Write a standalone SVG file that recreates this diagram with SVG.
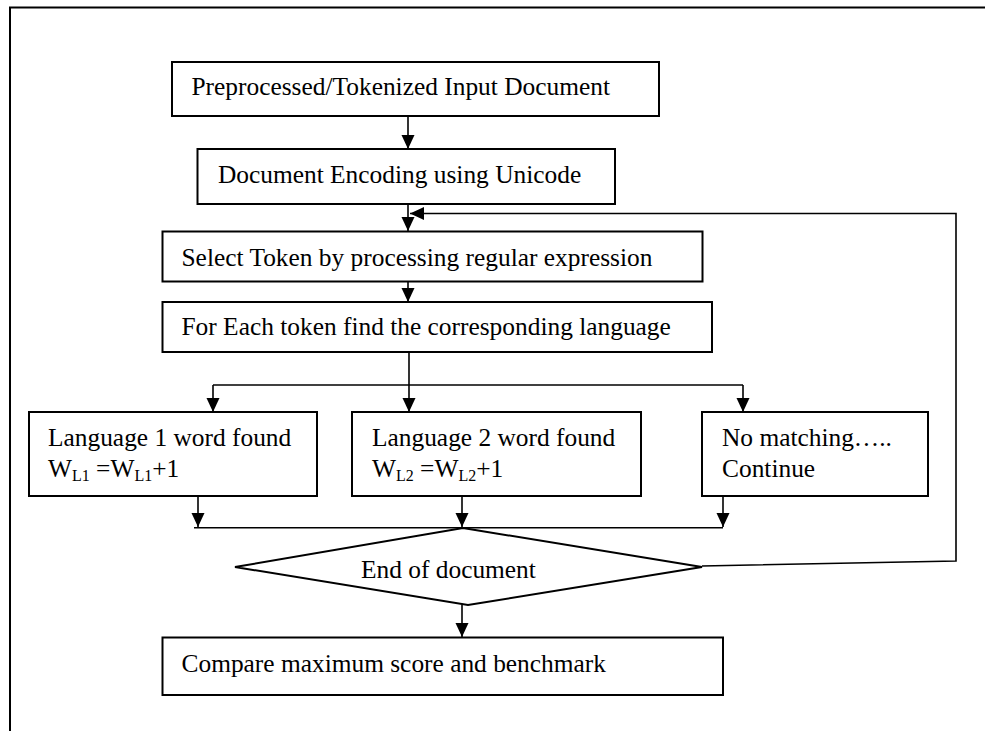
<svg xmlns="http://www.w3.org/2000/svg" width="985" height="731" viewBox="0 0 985 731">
<defs>
<style>
.box{fill:#fff;stroke:#000;stroke-width:2}
.ln{fill:none;stroke:#000;stroke-width:1.6}
.t{font-family:"Liberation Serif","Times New Roman",serif;font-size:25.4px;fill:#000}
.sub{font-size:16px}
</style>
<marker id="ah" markerUnits="userSpaceOnUse" markerWidth="15" markerHeight="14" refX="14" refY="6.5" orient="auto" viewBox="0 0 15 14">
<path d="M0,0 L14,6.5 L0,13 z" fill="#000"/>
</marker>
</defs>
<rect width="985" height="731" fill="#fff"/>
<g id="frame">
<path d="M10,731 V7.5 H985" fill="none" stroke="#000" stroke-width="2"/>
</g>
<g id="connectors">
<path class="ln" d="M408,116 V149" marker-end="url(#ah)"/>
<path class="ln" d="M408,204 V231" marker-end="url(#ah)"/>
<path class="ln" d="M408,281 V302" marker-end="url(#ah)"/>
<path class="ln" d="M409,352 V385"/>
<path class="ln" d="M213,385 H743"/>
<path class="ln" d="M213,385 V412" marker-end="url(#ah)"/>
<path class="ln" d="M409,385 V412" marker-end="url(#ah)"/>
<path class="ln" d="M743,385 V412" marker-end="url(#ah)"/>
<path class="ln" d="M198,496 V527" marker-end="url(#ah)"/>
<path class="ln" d="M462,496 V527" marker-end="url(#ah)"/>
<path class="ln" d="M723,496 V527" marker-end="url(#ah)"/>
<path class="ln" d="M194,527.7 H723"/>
<path class="ln" d="M462,605 V637" marker-end="url(#ah)"/>
<path class="ln" d="M702,566 L956,561 V213.5 H410" marker-end="url(#ah)"/>
</g>
<g id="n1">
<rect class="box" x="172" y="62" width="487" height="54"/>
<text class="t" x="191.5" y="94.5">Preprocessed/Tokenized Input Document</text>
</g>
<g id="n2">
<rect class="box" x="197.5" y="149" width="417.5" height="55"/>
<text class="t" x="218" y="183">Document Encoding using Unicode</text>
</g>
<g id="n3">
<rect class="box" x="162.5" y="231.5" width="540" height="50"/>
<text class="t" x="181.5" y="265.5">Select Token by processing regular expression</text>
</g>
<g id="n4">
<rect class="box" x="162.5" y="302" width="549.5" height="50"/>
<text class="t" x="181.5" y="335">For Each token find the corresponding language</text>
</g>
<g id="n5">
<rect class="box" x="29" y="412" width="288" height="84"/>
<text class="t" x="48" y="446">Language 1 word found</text>
<text class="t" x="48" y="476.5">W<tspan class="sub" dy="4">L1</tspan><tspan dy="-4"> =W</tspan><tspan class="sub" dy="4">L1</tspan><tspan dy="-4">+1</tspan></text>
</g>
<g id="n6">
<rect class="box" x="352" y="412" width="289" height="84"/>
<text class="t" x="372" y="446">Language 2 word found</text>
<text class="t" x="372" y="476.5">W<tspan class="sub" dy="4">L2</tspan><tspan dy="-4"> =W</tspan><tspan class="sub" dy="4">L2</tspan><tspan dy="-4">+1</tspan></text>
</g>
<g id="n7">
<rect class="box" x="702" y="412" width="226" height="84"/>
<text class="t" x="722" y="446">No matching…..</text>
<text class="t" x="722" y="476.5">Continue</text>
</g>
<g id="n8">
<polygon class="box" points="463,528 702,567 468,605 235,567"/>
<text class="t" x="361" y="577.5">End of document</text>
</g>
<g id="n9">
<rect class="box" x="162.5" y="637.5" width="560.5" height="57.5"/>
<text class="t" x="181.5" y="671.5">Compare maximum score and benchmark</text>
</g>
</svg>
